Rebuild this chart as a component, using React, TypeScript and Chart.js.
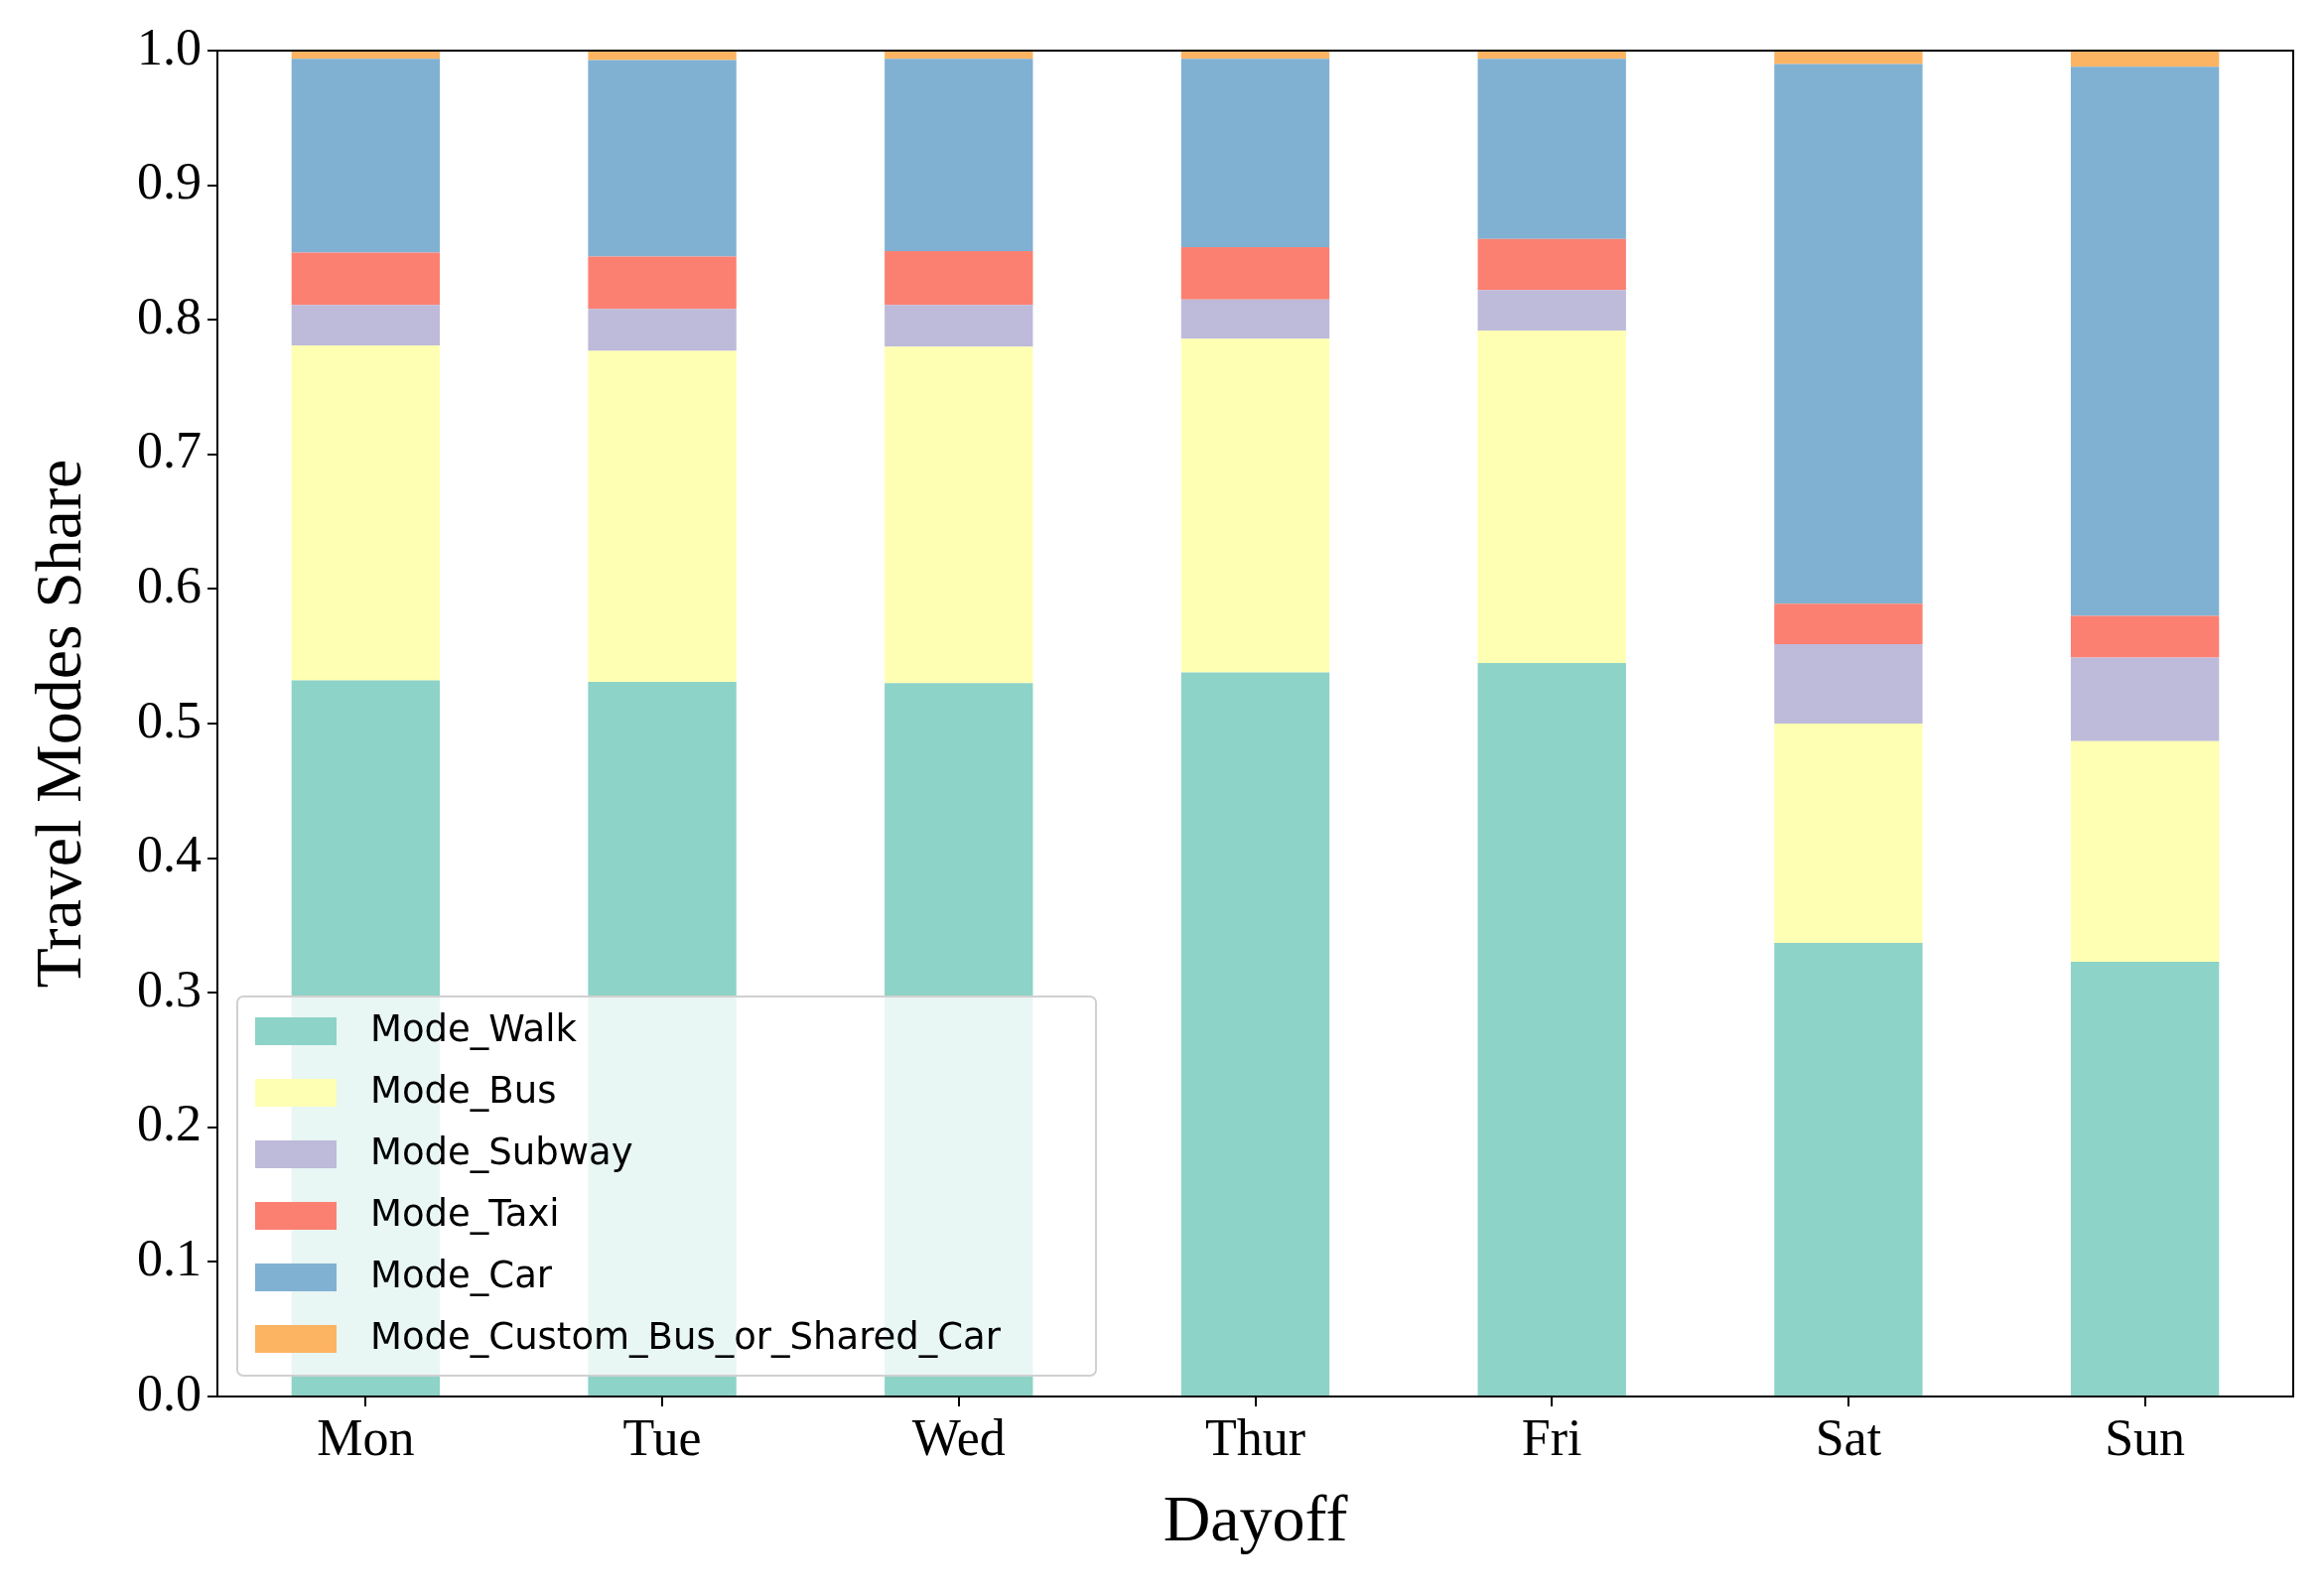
import { useEffect, useRef } from "react";
import { Chart, registerables } from "chart.js";

Chart.register(...registerables);

const days = ["Mon", "Tue", "Wed", "Thur", "Fri", "Sat", "Sun"];
const modeNames = ["Mode_Walk", "Mode_Bus", "Mode_Subway", "Mode_Taxi", "Mode_Car", "Mode_Custom_Bus_or_Shared_Car"];
const modeColors = ["#8dd3c7", "#ffffb3", "#bebada", "#fb8072", "#80b1d3", "#fdb462"];
const walk = [0.532, 0.531, 0.53, 0.538, 0.545, 0.337, 0.323];
const bus = [0.249, 0.246, 0.25, 0.248, 0.247, 0.163, 0.164];
const subway = [0.03, 0.031, 0.031, 0.029, 0.03, 0.059, 0.062];
const taxi = [0.039, 0.039, 0.04, 0.039, 0.038, 0.03, 0.031];
const car = [0.144, 0.146, 0.143, 0.14, 0.134, 0.401, 0.408];
const custom = [0.006, 0.007, 0.006, 0.006, 0.006, 0.01, 0.012];
const series = [walk, bus, subway, taxi, car, custom];

const serif = "'Liberation Serif', 'Times New Roman', serif";

const frameAndLegend = {
  id: "frameAndLegend",
  afterDraw(chart: any) {
    const { ctx, chartArea: a } = chart;
    ctx.save();
    ctx.strokeStyle = "#000";
    ctx.lineWidth = 2;
    ctx.strokeRect(a.left, a.top, a.right - a.left, a.bottom - a.top);

    const bx = a.left + 20, bw = 865, bh = 382;
    const by = a.bottom - 21 - bh;
    ctx.fillStyle = "rgba(255,255,255,0.8)";
    ctx.strokeStyle = "#d0d0d0";
    ctx.lineWidth = 2;
    ctx.beginPath();
    ctx.roundRect(bx, by, bw, bh, 6);
    ctx.fill();
    ctx.stroke();
    ctx.font = "37px 'DejaVu Sans'";
    ctx.textBaseline = "middle";
    modeNames.forEach((name, i) => {
      const y = by + 35 + i * 62;
      ctx.fillStyle = modeColors[i];
      ctx.fillRect(bx + 18, y - 14, 82, 28);
      ctx.fillStyle = "#000";
      ctx.fillText(name, bx + 134, y);
    });
    ctx.restore();
  },
};

export default function App() {
  const ref = useRef<HTMLCanvasElement | null>(null);
  useEffect(() => {
    if (!ref.current) return;
    const chart = new Chart(ref.current, {
      type: "bar",
      data: {
        labels: days,
        datasets: series.map((d, i) => ({
          label: modeNames[i],
          data: d,
          backgroundColor: modeColors[i],
          borderWidth: 0,
          categoryPercentage: 1,
          barPercentage: 0.5,
        })),
      },
      options: {
        responsive: false,
        devicePixelRatio: 1,
        animation: false,
        layout: { padding: { top: 51, right: 30, left: 20, bottom: 30 } },
        plugins: { legend: { display: false }, tooltip: { enabled: false } },
        scales: {
          x: {
            stacked: true,
            afterFit: (s: any) => { s.height = 171; },
            grid: { offset: false, drawOnChartArea: false, drawTicks: true, tickLength: 10, color: "#000", lineWidth: 2 },
            border: { color: "#000", width: 2 },
            ticks: { color: "#000", font: { family: serif, size: 52 }, padding: 4 },
            title: { display: true, text: "Dayoff", color: "#000", font: { family: serif, size: 66 }, padding: { top: 0 } },
          },
          y: {
            stacked: true,
            min: 0,
            max: 1,
            afterFit: (s: any) => { s.width = 199; },
            grid: { drawOnChartArea: false, drawTicks: true, tickLength: 10, color: "#000", lineWidth: 2 },
            border: { color: "#000", width: 2 },
            ticks: { stepSize: 0.1, color: "#000", font: { family: serif, size: 52 }, padding: 6, callback: (v: any) => Number(v).toFixed(1) },
            title: { display: true, text: "Travel Modes Share", color: "#000", font: { family: serif, size: 66 }, padding: { bottom: 10 } },
          },
        },
      },
      plugins: [frameAndLegend],
    });
    return () => chart.destroy();
  }, []);
  return (
    <div style={{ position: "fixed", left: 0, top: 0, width: 2340, height: 1608, background: "#fff" }}>
      <canvas ref={ref} width={2340} height={1608} />
    </div>
  );
}
